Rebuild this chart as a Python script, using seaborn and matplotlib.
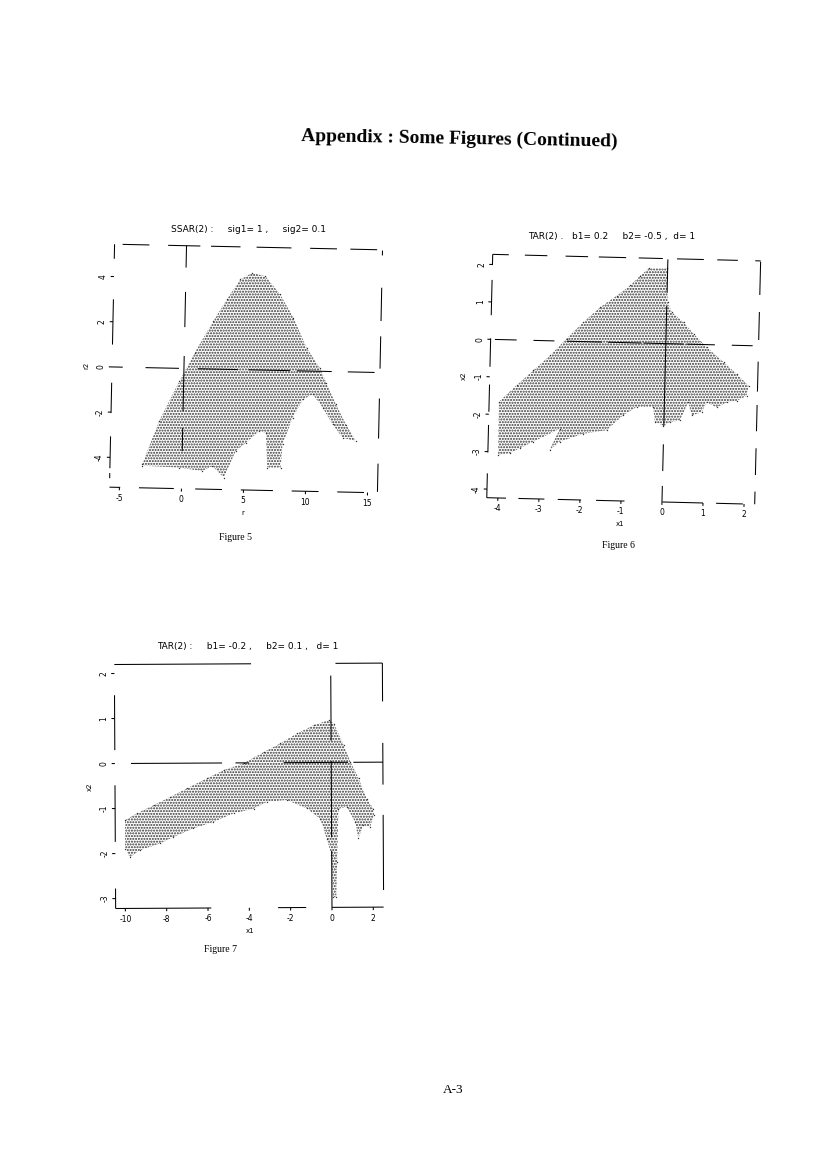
import matplotlib
matplotlib.use('Agg')
import matplotlib.pyplot as plt
import seaborn as sns
from matplotlib.transforms import Affine2D

sns.set_theme(style='white')
plt.rcParams['font.family'] = ['DejaVu Sans']

# Figure 5: SSAR(2), contorno da regiao pontilhada
fig5_x = [-3.2, -1.9, -.34, .84, 2.29, 3.34, 4.4, 5.33, 6.41, 7.63, 8.74, 9.84, 10.94, 11.5, 12.3, 13.15, 13.98,
          12.9, 12.08, 11.25, 10.43, 9.63, 8.84, 8.07, 7.96, 6.88, 6.71, 6.17, 5.11, 4.31, 3.4, 2.45, 1.65, -.24, -3.2]
fig5_y = [-4.27, -2.34, -.56, .71, 2.12, 3.09, 3.99, 4.29, 4.15, 3.36, 2.34, 1.03, .15, -.5, -1.45, -2.33, -3.05,
          -2.92, -2.34, -1.61, -1.03, -1.26, -2.08, -3.27, -4.3, -4.31, -2.77, -2.7, -3.23, -3.6, -4.79, -4.29, -4.52, -4.39, -4.34]

# Figure 6: TAR(2)
fig6_x = [-4.03, -3.61, -3.21, -2.81, -2.42, -2.02, -1.62, -1.22, -.9, -.66, -.46, -.01, .02, .13, .42, .67, 1.0, 1.42, 1.75, 2.04, 2.0,
          1.76, 1.52, 1.28, 1.03, .91, .67, .58, .39, .15, -.01, -.22, -.27, -.67, -1.0, -1.39, -1.96, -2.53, -2.77, -2.53, -3.18, -3.5, -3.74, -4.02]
fig6_y = [-1.66, -1.21, -.8, -.39, .07, .52, .93, 1.25, 1.53, 1.8, 2.0, 2.01, 1.1, .84, .58, .28, -.07, -.46, -.77, -1.07, -1.34,
          -1.48, -1.53, -1.67, -1.54, -1.81, -1.9, -1.55, -2.04, -2.09, -2.19, -2.1, -1.7, -1.71, -1.94, -2.35, -2.46, -2.69, -2.92, -2.34, -2.71, -2.89, -3.03, -3.08]

# Figure 7: TAR(2)
fig7_x = [-9.99, -9.42, -8.61, -7.8, -6.99, -6.02, -5.21, -4.24, -3.26, -2.45, -1.64, -.83, -.1, .14, .61, .93, 1.32, 1.71, 2.03, 2.06,
          1.86, 1.54, 1.29, 1.14, .74, .34, .26, .21, .05, -.01, -.24, -.55, -1.19, -2.16, -3.13, -3.77, -4.74, -5.72, -6.69, -7.66, -8.31, -9.28, -9.77, -10.0]
fig7_y = [-1.26, -1.11, -.93, -.75, -.56, -.34, -.16, -.01, .24, .43, .65, .83, .94, .86, .38, .01, -.36, -.81, -1.03, -1.18,
          -1.44, -1.4, -1.69, -1.32, -.99, -1.03, -2.21, -2.99, -2.99, -2.06, -1.69, -1.25, -1.02, -.83, -.87, -1.02, -1.12, -1.31, -1.45, -1.64, -1.78, -1.93, -2.08, -1.89]

fig5_xticks = [-5, 0, 5, 10, 15]
fig5_yticks = [4, 2, 0, -2, -4]
fig6_xticks = [-4, -3, -2, -1, 0, 1, 2]
fig6_yticks = [2, 1, 0, -1, -2, -3, -4]
fig7_xticks = [-10, -8, -6, -4, -2, 0, 2]
fig7_yticks = [2, 1, 0, -1, -2, -3]

# trechos visiveis da moldura (o scan quebra as linhas), fracao do lado
fig5_lines = {
    'top': [(.03, .13), (.20, .32), (.36, .47), (.53, .66), (.73, .83), (.88, .98)],
    'bottom': [(0, .04), (.11, .24), (.32, .42), (.49, .61), (.68, .78), (.85, .95)],
    'left': [(.94, 1), (.587, .773), (.305, .43), (.078, .209), (.037, .058)],
    'right': [(.977, .997), (.707, .844), (.511, .644), (.223, .388), (.004, .12)],
    'y0': [(0, .04), (.125, .25), (.32, .47), (.51, .665), (.69, .82), (.88, .98)],
    'x0': [(.91, 1), (.665, .81), (.319, .546), (.154, .25)],
}
fig6_lines = {
    'top': [(0, .06), (.12, .204), (.272, .356), (.396, .498), (.545, .635), (.688, .788), (.838, .915), (.98, 1)],
    'bottom': [(0, .072), (.118, .215), (.265, .352), (.408, .514), (.655, .807), (.856, .956)],
    'left': [(.956, 1), (.75, .895), (.538, .655), (.353, .465), (.186, .299), (0, .1)],
    'right': [(.86, .997), (.675, .79), (.463, .586), (.3, .408), (.12, .23), (0, .052)],
    'y0': [(.016, .097), (.16, .238), (.284, .415), (.438, .563), (.57, .72), (.732, .837), (.90, .978)],
    'x0': [(.86, .997), (.312, .805), (.127, .237), (0, .066)],
}
fig7_lines = {
    'top': [(0, .51), (.825, 1)],
    'bottom': [(0, .357), (.606, .711), (.807, 1)],
    'left': [(.649, .874), (.273, .505), (0, .082)],
    'right': [(.843, 1), (.502, .673), (.07, .378)],
    'y0': [(.06, .40), (.45, .50), (.63, .87), (.89, 1)],
    'x0': [(.683, .95), (.287, .60), (0, .232)],
}

W, H = 826, 1168
fig = plt.figure(figsize=(W / 100, H / 100), dpi=100, facecolor='white')


def painel(x, y, xticks, yticks, linhas, titulo, xlab, ylab, legenda, centro, tam, ang, xlim, ylim, tit_xy, leg_xy):
    cx, cy = centro
    w, h = tam
    ax = fig.add_axes([(cx - w / 2) / W, 1 - (cy + h / 2) / H, w / W, h / H])
    ax.axis('off')
    ax.set_xlim(xlim)
    ax.set_ylim(ylim)

    rot = Affine2D().rotate_deg_around(cx, H - cy, -ang)
    tdata = ax.transData + rot
    taxes = ax.transAxes + rot
    tx = ax.get_xaxis_transform() + rot
    ty = ax.get_yaxis_transform() + rot

    # regiao pontilhada e os pontos do contorno
    ax.fill(x, y, facecolor='white', edgecolor='#333333', hatch='......', linewidth=0, transform=tdata, clip_on=False)
    sns.scatterplot(x=x, y=y, ax=ax, s=1, color='#333333', linewidth=0, transform=tdata, clip_on=False)
    ax.set_xlim(xlim)
    ax.set_ylim(ylim)

    kw = dict(color='black', lw=0.75, clip_on=False, solid_capstyle='butt')
    for a, b in linhas['top']:
        ax.plot([a, b], [1, 1], transform=taxes, **kw)
    for a, b in linhas['bottom']:
        ax.plot([a, b], [0, 0], transform=taxes, **kw)
    for a, b in linhas['left']:
        ax.plot([0, 0], [a, b], transform=taxes, **kw)
    for a, b in linhas['right']:
        ax.plot([1, 1], [a, b], transform=taxes, **kw)
    for a, b in linhas['y0']:
        ax.plot([a, b], [0, 0], transform=ty, **kw)
    for a, b in linhas['x0']:
        ax.plot([0, 0], [a, b], transform=tx, **kw)

    fs = 5.5
    for t in xticks:
        ax.plot([t, t], [0, -.012], transform=tx, **kw)
        ax.text(t, -.045, str(t), transform=tx, ha='center', va='center', fontsize=fs, color='black')
    for t in yticks:
        ax.plot([0, -.012], [t, t], transform=ty, **kw)
        ax.text(-.04, t, str(t), transform=ty, ha='center', va='center', rotation=90, fontsize=fs, color='black')
    ax.text(.5, -.095, xlab, transform=taxes, ha='center', va='center', fontsize=5, color='black')
    ax.text(-.095, .5, ylab, transform=taxes, ha='center', va='center', rotation=90, fontsize=5, color='black')

    fig.text(tit_xy[0] / W, 1 - tit_xy[1] / H, titulo, ha='center', va='center', fontsize=6.5, color='black')
    fig.text(leg_xy[0] / W, 1 - leg_xy[1] / H, legenda, ha='center', va='center', fontsize=7,
             family='Liberation Serif', color='black')


painel(fig5_x, fig5_y, fig5_xticks, fig5_yticks, fig5_lines, 'SSAR(2) :     sig1= 1 ,     sig2= 0.1', 'r', 'r2', 'Figure 5',
       (246, 368.5), (268, 243), 1.2, (-5.8, 15.8), (-5.32, 5.43), (249, 229), (235, 537))
painel(fig6_x, fig6_y, fig6_xticks, fig6_yticks, fig6_lines, 'TAR(2) .   b1= 0.2     b2= -0.5 ,  d= 1', 'x1', 'x2', 'Figure 6',
       (623.7, 379.3), (268, 243.4), 1.4, (-4.27, 2.26), (-4.23, 2.27), (612, 237), (618, 546))
painel(fig7_x, fig7_y, fig7_xticks, fig7_yticks, fig7_lines, 'TAR(2) :     b1= -0.2 ,     b2= 0.1 ,   d= 1', 'x1', 'x2', 'Figure 7',
       (249, 785.8), (268, 244), -.3, (-10.47, 2.5), (-3.22, 2.2), (248, 647), (221, 950))

fig.text(459 / W, 1 - 139 / H, 'Appendix : Some Figures (Continued)', ha='center', va='center', rotation=-1,
         fontsize=14, fontweight='bold', family='Liberation Serif', color='black')
fig.text(453 / W, 1 - 1090 / H, 'A-3', ha='center', va='center', fontsize=9.5, family='Liberation Serif', color='black')

fig.savefig('out.png', dpi=100)
